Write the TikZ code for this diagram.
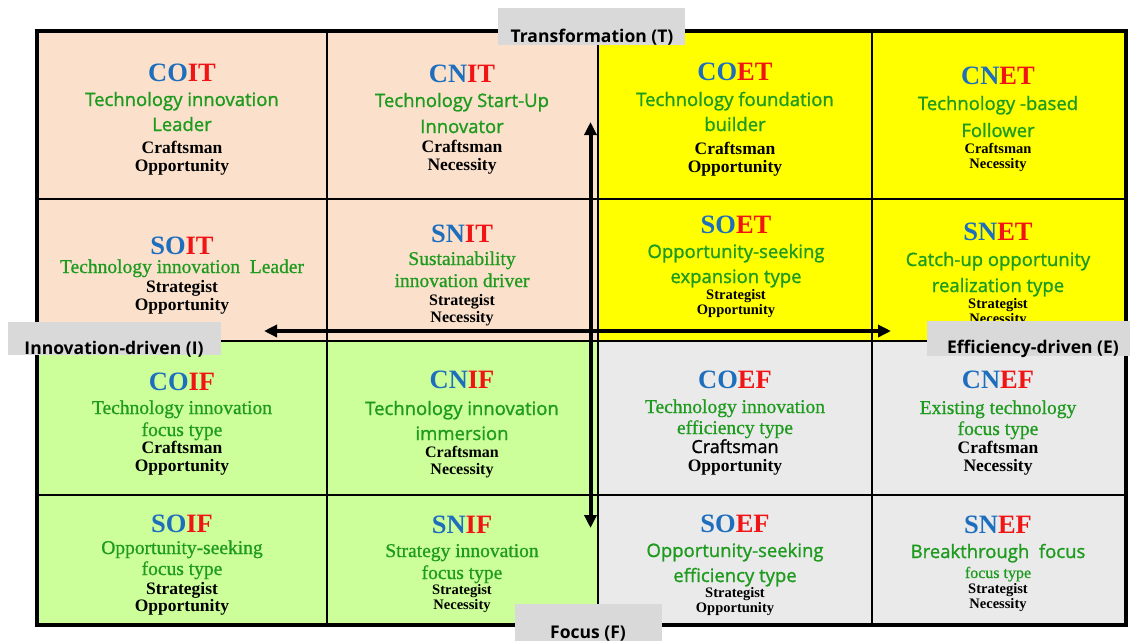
\documentclass[tikz,border=0pt]{standalone}
\usepackage{fontspec}
\setmainfont{Liberation Serif}
\newfontfamily\gsans[FakeBold=1.2]{Open Sans}
\newfontfamily\lsans{Open Sans}
\newfontfamily\gserif[FakeBold=0.8]{Liberation Serif}
\usetikzlibrary{arrows.meta}
\definecolor{peach}{RGB}{251,225,204}
\definecolor{yel}{RGB}{255,255,0}
\definecolor{lgreen}{RGB}{204,255,153}
\definecolor{lgray}{RGB}{234,234,234}
\definecolor{labgray}{RGB}{217,217,217}
\definecolor{cblue}{RGB}{30,110,190}
\definecolor{cred}{RGB}{240,20,20}
\definecolor{tgreen}{RGB}{30,155,30}
\tikzset{
  code/.style={anchor=base, inner sep=0pt, font=\fontsize{26.5}{28}\selectfont\bfseries},
  gs/.style={anchor=base, inner sep=0pt, text=tgreen, font=\gsans\fontsize{18.5}{20}\selectfont},
  gr/.style={anchor=base, inner sep=0pt, text=tgreen, font=\gserif\fontsize{19.5}{22}\selectfont},
  grs/.style={anchor=base, inner sep=0pt, text=tgreen, font=\gserif\fontsize{16}{18}\selectfont},
  bk/.style={anchor=base, inner sep=0pt, font=\fontsize{17.5}{20}\selectfont\bfseries},
  bkm/.style={anchor=base, inner sep=0pt, font=\fontsize{16}{18}\selectfont\bfseries},
  bks/.style={anchor=base, inner sep=0pt, font=\fontsize{14.5}{16}\selectfont\bfseries},
  bksans/.style={anchor=base, inner sep=0pt, font=\gsans\fontsize{18}{20}\selectfont},
  labbox/.style={fill=labgray, inner sep=0pt, outer sep=0pt, draw=none},
  labtext/.style={anchor=base, inner sep=0pt, font=\lsans\bfseries\fontsize{17.5}{20}\selectfont},
  axis/.style={line width=4pt, {Triangle[length=13pt,width=12pt]}-{Triangle[length=13pt,width=12pt]}},
  grid/.style={line width=1.3pt},
  frame/.style={line width=4pt}
}
\newcommand{\cd}[2]{\textcolor{cblue}{#1}\textcolor{cred}{#2}}
\begin{document}
\begin{tikzpicture}[x=1pt,y=-1pt]
\useasboundingbox (0,0) rectangle (1130,641);
% quadrant fills
\fill[peach] (37,31) rectangle (598,341);
\fill[yel] (598,31) rectangle (1125.5,341);
\fill[lgreen] (37,341) rectangle (598,624.5);
\fill[lgray] (598,341) rectangle (1125.5,624.5);
% grid
\draw[grid] (327,31) -- (327,624.5);
\draw[grid] (598,31) -- (598,624.5);
\draw[grid] (872,31) -- (872,624.5);
\draw[grid] (37,199) -- (1125.5,199);
\draw[grid] (37,341) -- (1125.5,341);
\draw[grid] (37,495) -- (1125.5,495);
\draw[frame] (37,31) rectangle (1125.5,624.5);

% COIT
\node[code] (coit) at (182,81) {\cd{CO}{IT}};
\node[gs] (coit1) at (182,106) {Technology innovation};
\node[gs] (coit2) at (182,131) {Leader};
\node[bk] (coit3) at (182,153) {Craftsman};
\node[bk] (coit4) at (182,171) {Opportunity};
% CNIT
\node[code] (cnit) at (462,82) {\cd{CN}{IT}};
\node[gs] (cnit1) at (462,107) {Technology Start-Up};
\node[gs] (cnit2) at (462,133) {Innovator};
\node[bk] (cnit3) at (462,152) {Craftsman};
\node[bk] (cnit4) at (462,170) {Necessity};
% COET
\node[code] (coet) at (735,80) {\cd{CO}{ET}};
\node[gs] (coet1) at (735,106) {Technology foundation};
\node[gs] (coet2) at (735,131) {builder};
\node[bk] (coet3) at (735,154) {Craftsman};
\node[bk] (coet4) at (735,172) {Opportunity};
% CNET
\node[code] (cnet) at (998,84) {\cd{CN}{ET}};
\node[gs] (cnet1) at (998,110) {Technology -based};
\node[gs] (cnet2) at (998,137) {Follower};
\node[bks] (cnet3) at (998,153) {Craftsman};
\node[bks] (cnet4) at (998,168) {Necessity};
% SOIT
\node[code] (soit) at (182,254) {\cd{SO}{IT}};
\node[gr] (soit1) at (182,273) {Technology innovation\ \ Leader};
\node[bk] (soit2) at (182,292) {Strategist};
\node[bk] (soit3) at (182,310) {Opportunity};
% SNIT
\node[code] (snit) at (462,242) {\cd{SN}{IT}};
\node[gr] (snit1) at (462,265) {Sustainability};
\node[gr] (snit2) at (462,287) {innovation driver};
\node[bkm] (snit3) at (462,305) {Strategist};
\node[bkm] (snit4) at (462,322) {Necessity};
% SOET
\node[code] (soet) at (736,233) {\cd{SO}{ET}};
\node[gs] (soet1) at (736,258) {Opportunity-seeking};
\node[gs] (soet2) at (736,283) {expansion type};
\node[bks] (soet3) at (736,299) {Strategist};
\node[bks] (soet4) at (736,314) {Opportunity};
% SNET
\node[code] (snet) at (998,240) {\cd{SN}{ET}};
\node[gs] (snet1) at (998,266) {Catch-up opportunity};
\node[gs] (snet2) at (998,292) {realization type};
\node[bks] (snet3) at (998,308) {Strategist};
\node[bks] (snet4) at (998,323) {Necessity};
% COIF
\node[code] (coif) at (182,390) {\cd{CO}{IF}};
\node[gr] (coif1) at (182,414) {Technology innovation};
\node[gr] (coif2) at (182,436) {focus type};
\node[bk] (coif3) at (182,453) {Craftsman};
\node[bk] (coif4) at (182,471) {Opportunity};
% CNIF
\node[code] (cnif) at (462,388) {\cd{CN}{IF}};
\node[gs] (cnif1) at (462,415) {Technology innovation};
\node[gs] (cnif2) at (462,440) {immersion};
\node[bkm] (cnif3) at (462,457) {Craftsman};
\node[bkm] (cnif4) at (462,474) {Necessity};
% COEF
\node[code] (coef) at (735,388) {\cd{CO}{EF}};
\node[gr] (coef1) at (735,413) {Technology innovation};
\node[gr] (coef2) at (735,434) {efficiency type};
\node[bksans] (coef3) at (735,453) {Craftsman};
\node[bk] (coef4) at (735,471) {Opportunity};
% CNEF
\node[code] (cnef) at (998,388) {\cd{CN}{EF}};
\node[gr] (cnef1) at (998,414) {Existing technology};
\node[gr] (cnef2) at (998,435) {focus type};
\node[bk] (cnef3) at (998,453) {Craftsman};
\node[bk] (cnef4) at (998,471) {Necessity};
% SOIF
\node[code] (soif) at (182,532) {\cd{SO}{IF}};
\node[gr] (soif1) at (182,554) {Opportunity-seeking};
\node[gr] (soif2) at (182,575) {focus type};
\node[bk] (soif3) at (182,594) {Strategist};
\node[bk] (soif4) at (182,611) {Opportunity};
% SNIF
\node[code] (snif) at (462,533) {\cd{SN}{IF}};
\node[gr] (snif1) at (462,557) {Strategy innovation};
\node[gr] (snif2) at (462,579) {focus type};
\node[bks] (snif3) at (462,594) {Strategist};
\node[bks] (snif4) at (462,609) {Necessity};
% SOEF
\node[code] (soef) at (735,532) {\cd{SO}{EF}};
\node[gs] (soef1) at (735,557) {Opportunity-seeking};
\node[gs] (soef2) at (735,582) {efficiency type};
\node[bks] (soef3) at (735,597) {Strategist};
\node[bks] (soef4) at (735,612) {Opportunity};
% SNEF
\node[code] (snef) at (998,533) {\cd{SN}{EF}};
\node[gs] (snef1) at (998,558) {Breakthrough\ \ focus};
\node[grs] (snef2) at (998,578) {focus type};
\node[bks] (snef3) at (998,593) {Strategist};
\node[bks] (snef4) at (998,608) {Necessity};

% axes
\coordinate (tTop) at (590.5,122);
\coordinate (tBot) at (590.5,528);
\coordinate (iLeft) at (264,331);
\coordinate (eRight) at (891,331);
\draw[axis] (tBot) -- (tTop);
\draw[axis] (iLeft) -- (eRight);

% axis labels
\node[labbox, minimum width=187pt, minimum height=37pt] (tbox) at (591.5,26.5) {};
\node[labtext] (tlab) at (592,42) {Transformation (T)};
\node[labbox, minimum width=213pt, minimum height=33pt] (ibox) at (114.5,338.5) {};
\node[labtext] (ilab) at (114,354) {Innovation-driven (I)};
\node[labbox, minimum width=203pt, minimum height=35pt] (ebox) at (1028.5,338.5) {};
\node[labtext] (elab) at (1033,353) {Efficiency-driven (E)};
\node[labbox, minimum width=147pt, minimum height=37pt] (fbox) at (588.5,622.5) {};
\node[labtext] (flab) at (588,638) {Focus (F)};
\end{tikzpicture}
\end{document}
